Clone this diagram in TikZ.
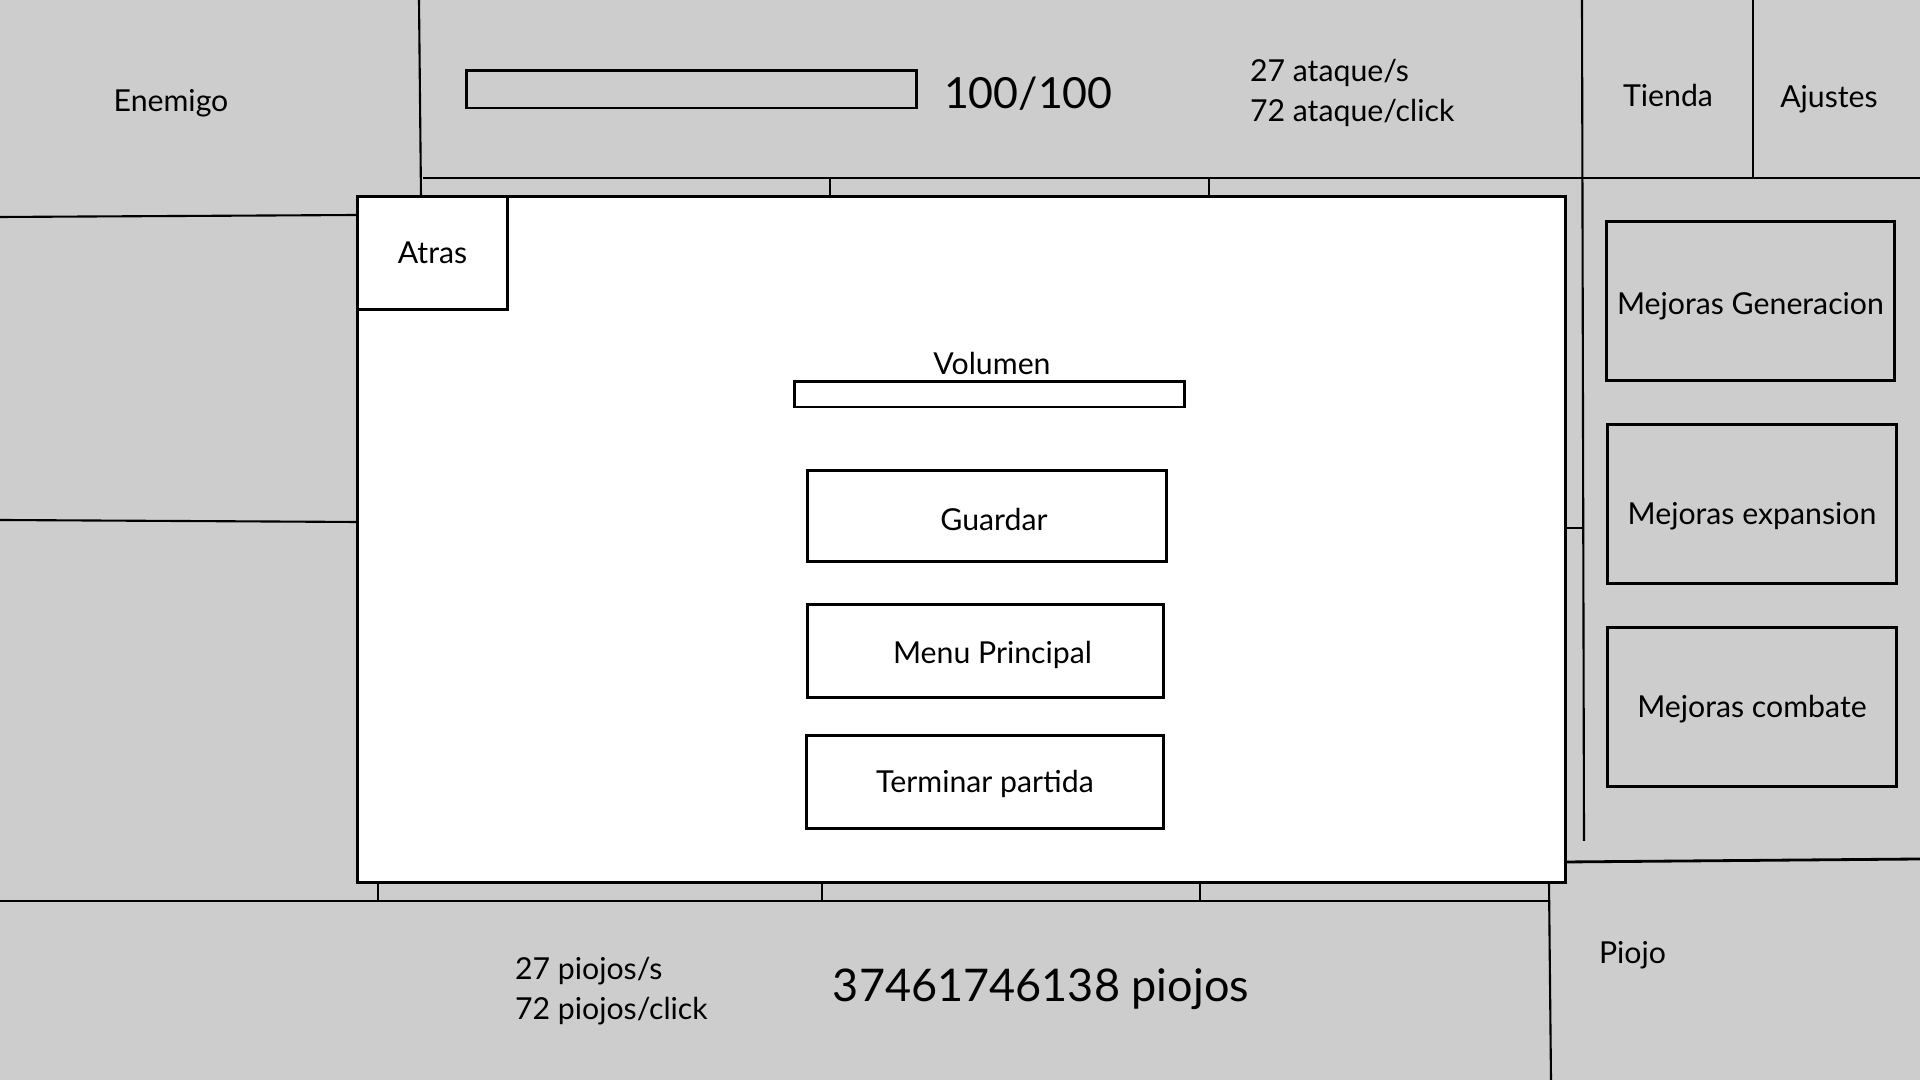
\documentclass[tikz,border=0pt]{standalone}
\usepackage{fontspec}
\setmainfont{Lato}
\definecolor{fondo}{RGB}{205,205,205}
\tikzset{
  txt/.style={font=\fontsize{8.6}{11.4}\selectfont, inner sep=0pt},
  grande/.style={font=\fontsize{12.8}{15}\selectfont, inner sep=0pt},
  caja/.style={draw, rectangle, line width=0.85pt, inner sep=0pt, font=\fontsize{8.6}{11}\selectfont},
}
\newcommand{\baja}[2]{\raisebox{-#1pt}[\height][\depth]{#2}}
\begin{document}
\begin{tikzpicture}[x=0.01cm, y=-0.01cm, line width=0.6pt]
\useasboundingbox (0,0) rectangle (1920,1080);
\fill[fondo] (0,0) rectangle (1920,1080);

% divisiones del fondo
\path[draw,-] (419,0) -- (421,197);
\path[draw,-] (0,217) -- (358,215);
\path[draw,-] (0,520) -- (358,522);
\path[draw,line width=0.8pt,-] (423,178) -- (1920,178);
\path[draw,-] (830,178) -- (830,197);
\path[draw,-] (1209,178) -- (1209,197);
\path[draw,-] (1582,0) -- (1584,841);
\path[draw,-] (1753,0) -- (1753,178);
\path[draw,-] (1565,528) -- (1583,528);
\path[draw,line width=0.8pt,-] (1565,862) -- (1920,859);
\path[draw,line width=0.8pt,-] (0,901) -- (1549,901);
\path[draw,-] (378,882) -- (378,901);
\path[draw,-] (822,882) -- (822,901);
\path[draw,-] (1200,882) -- (1200,901);
\path[draw,-] (1549,882) -- (1551,1080);

% barra superior
\node[txt] (enemigo) at (171,103) {Enemigo};
\node[caja, minimum width=4.49cm, minimum height=0.37cm] (vida) at (691.5,89.5) {};
\node[grande, font=\fontsize{12.2}{15}\selectfont, anchor=west] (hp) at (943,94) {100/100};
\node[txt, anchor=west, align=left] (ataque) at (1249,93) {27 ataque/s\\72 ataque/click};
\node[txt] (tienda) at (1668,95) {Tienda};
\node[txt] (ajustes) at (1829,99) {Ajustes};

% ventana de ajustes
\node[draw, fill=white, line width=0.9pt, minimum width=12.07cm, minimum height=6.85cm, inner sep=0pt] (panel) at (961.5,539.5) {};
\node[caja, fill=white, minimum width=1.49cm, minimum height=1.12cm] (atras) at (432.5,253) {Atras};
\node[txt] (volumen) at (992,363) {Volumen};
\node[caja, fill=white, minimum width=3.89cm, minimum height=0.25cm] (barra) at (989.5,394.5) {};
\node[caja, minimum width=3.58cm, minimum height=0.90cm] (guardar) at (987,516) {\hspace*{0.14cm}\baja{1}{Guardar}};
\node[caja, minimum width=3.55cm, minimum height=0.92cm] (menu) at (985.5,651) {\hspace*{0.14cm}\baja{1}{Menu Principal}};
\node[caja, minimum width=3.56cm, minimum height=0.92cm] (terminar) at (985,782) {\baja{0.5}{Terminar partida}};

% tienda
\node[caja, minimum width=2.87cm, minimum height=1.58cm] (gen) at (1750.5,301) {\baja{1.5}{Mejoras Generacion}};
\node[caja, minimum width=2.88cm, minimum height=1.58cm] (exp) at (1752,504) {\baja{3.6}{Mejoras expansion}};
\node[caja, minimum width=2.88cm, minimum height=1.58cm] (comb) at (1752,707) {\baja{0.5}{Mejoras combate}};

% barra inferior
\node[txt, anchor=west, align=left] (piojos) at (514,991) {27 piojos/s\\72 piojos/click};
\node[grande] (total) at (1041,989) {37461746138 piojos};
\node[txt, anchor=west] (piojo) at (1598,955) {Piojo};
\end{tikzpicture}
\end{document}
